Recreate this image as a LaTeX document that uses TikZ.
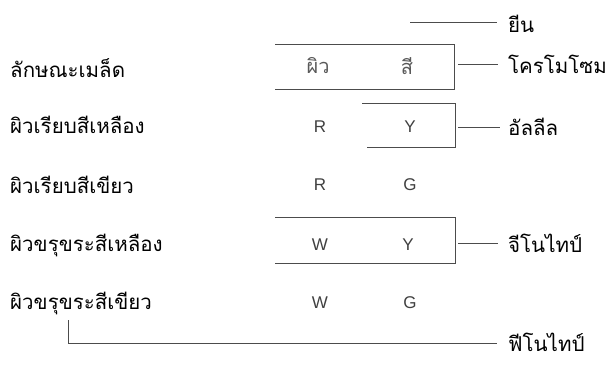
\documentclass[tikz,border=0pt]{standalone}
\usepackage{fontspec}
\setmainfont{Liberation Sans}
\newfontfamily\thaifont[Script=Thai]{Loma}
\begin{document}
\begin{tikzpicture}[x=1pt,y=-1pt,
  lbl/.style={font=\thaifont\fontsize{20.5}{24}\selectfont, text=black, inner sep=0pt, anchor=west},
  let/.style={font=\fontsize{17}{20}\selectfont, text=black!75, inner sep=0pt},
  thl/.style={font=\thaifont\fontsize{20}{24}\selectfont, text=black!65, inner sep=0pt},
  brk/.style={draw=black!70, line width=0.8pt},
  con/.style={draw=black!70, line width=0.8pt}]
\useasboundingbox (0,0) rectangle (607,365);
% left labels
\node[lbl] (h0) at (10,68) {ลักษณะเมล็ด};
\node[lbl] (r1) at (10,125) {ผิวเรียบสีเหลือง};
\node[lbl] (r2) at (10,185) {ผิวเรียบสีเขียว};
\node[lbl] (r3) at (10,245) {ผิวขรุขระสีเหลือง};
\node[lbl] (r4) at (10,303) {ผิวขรุขระสีเขียว};
% columns
\node[thl] (c0a) at (318,66) {ผิว};
\node[thl] (c0b) at (407,66) {สี};
\node[let] (c1a) at (320,127) {R};
\node[let] (c1b) at (410,127) {Y};
\node[let] (c2a) at (320,185) {R};
\node[let] (c2b) at (410,185) {G};
\node[let] (c3a) at (320,245) {W};
\node[let] (c3b) at (408,245) {Y};
\node[let] (c4a) at (320,303) {W};
\node[let] (c4b) at (410,303) {G};
% right labels
\node[lbl] (gene) at (508,24) {ยีน};
\node[lbl] (chrom) at (508,64) {โครโมโซม};
\node[lbl] (allele) at (508,127) {อัลลีล};
\node[lbl] (geno) at (508,243) {จีโนไทป์};
\node[lbl] (pheno) at (508,342) {ฟีโนไทป์};
% brackets
\draw[brk] (275,44) -- (454,44) -- (454,89) -- (275,89);
\draw[brk] (362,103) -- (455,103) -- (455,147) -- (367,147);
\draw[brk] (275,217) -- (455,217) -- (455,263) -- (275,263);
\draw[brk] (68,320) -- (68,343) -- (497,343);
% connectors
\coordinate (g0) at (410,22);
\coordinate (k1) at (458,64);
\coordinate (k2) at (458,127);
\coordinate (k3) at (458,243);
\draw[con] (g0) -- (497,22);
\draw[con] (k1) -- (498,64);
\draw[con] (k2) -- (500,127);
\draw[con] (k3) -- (498,243);
\end{tikzpicture}
\end{document}
